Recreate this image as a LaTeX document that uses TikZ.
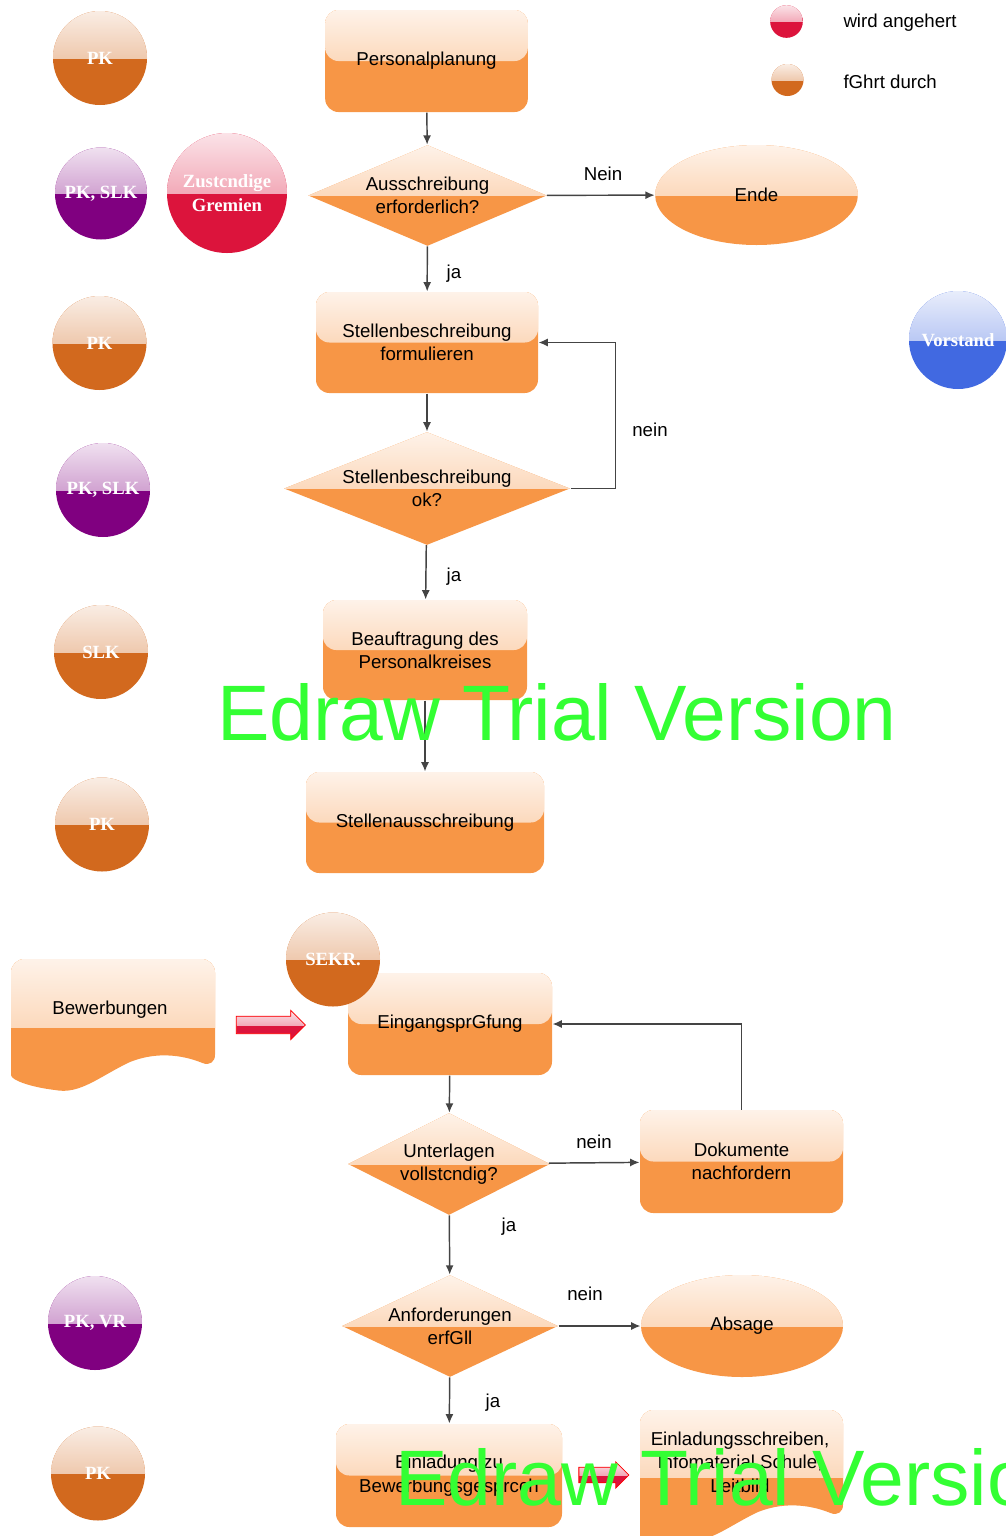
\documentclass[tikz,border=0pt]{standalone}
\usepackage{fontspec}
\setmainfont{Liberation Sans}
\newfontfamily\rolefont{Liberation Serif}
\usetikzlibrary{shapes.geometric,shapes.arrows,arrows.meta}

\definecolor{boxorange}{RGB}{247,150,70}
\definecolor{roleorange}{RGB}{210,105,30}
\definecolor{rolepurple}{RGB}{128,0,128}
\definecolor{rolered}{RGB}{220,20,60}
\definecolor{roleblue}{RGB}{65,105,225}
\definecolor{linegray}{RGB}{68,68,68}
\definecolor{trialgreen}{RGB}{51,255,51}

\tikzset{every picture/.style={line width=0.75pt},
  gloss/.style={path picture={\shade[top color=#1!12!white, bottom color=#1!60!white] (path picture bounding box.north west) rectangle (path picture bounding box.east);}},
  txt/.style={font=\fontsize{14pt}{17.5pt}\selectfont},
  box/.style={rectangle, rounded corners=10pt, fill=boxorange, gloss=boxorange, align=center, inner sep=0pt, txt},
  dec/.style={diamond, fill=boxorange, gloss=boxorange, align=center, inner sep=0pt, txt},
  oval/.style={ellipse, fill=boxorange, gloss=boxorange, align=center, inner sep=0pt, txt},
  role/.style={circle, fill=#1, gloss=#1, text=white, align=center, inner sep=0pt, minimum size=70.5pt, font=\rolefont\bfseries\fontsize{14pt}{18pt}\selectfont},
  conn/.style={draw=linegray, line width=1.1pt, -{Latex[length=7pt,width=6pt]}},
  lbl/.style={txt, inner sep=0pt},
  blockarrow/.style={single arrow, single arrow head extend=4.5pt, fill=rolered, gloss=rolered, draw=red, line width=0.6pt, inner xsep=0pt, inner ysep=6.2pt},
  trial/.style={text=trialgreen, font=\fontsize{59pt}{59pt}\selectfont, inner sep=0pt, anchor=base west}
}

\begin{document}
\begin{tikzpicture}[x=0.75pt,y=0.75pt,yscale=-1,xscale=1]
\useasboundingbox (0,0) rectangle (1006,1536);
\clip (0,0) rectangle (1006,1536);

%Shape: Legend
\node [role=rolered, minimum size=24.5pt] (legred) at (786.5,21.5) {};
\node [role=roleorange, minimum size=24pt] (legorange) at (787.5,80) {};
\node [lbl, anchor=west] (legredtext) at (843,23) {wird angehert};
\node [lbl, anchor=west] (legorangetext) at (843,82) {fGhrt durch};

%Shape: Roles
\node [role=roleorange] (pkA) at (100,58) {PK};
\node [role=rolepurple, minimum size=69pt] (pkslkA) at (101,193.5) {PK, SLK};
\node [role=rolered, minimum size=90pt] (gremien) at (227,193) {Zustcndige\\Gremien};
\node [role=roleorange] (pkB) at (99.5,343) {PK};
\node [role=rolepurple] (pkslkB) at (103,490) {PK, SLK};
\node [role=roleorange] (slk) at (101,652) {SLK};
\node [role=roleorange] (pkC) at (102,824.5) {PK};
\node [role=roleblue, minimum size=73.5pt] (vorstand) at (958,340) {Vorstand};
\node [role=rolepurple] (pkvr) at (95,1323) {PK, VR};
\node [role=roleorange] (pkD) at (98,1473.5) {PK};

%Shape: Process part 1
\node [box, minimum width=152pt, minimum height=76.5pt] (plan) at (426.5,61) {Personalplanung};
\node [dec, shape aspect=2.36, minimum width=179pt, minimum height=75.75pt] (ausschr) at (427.5,195.5) {Ausschreibung\\erforderlich?};
\node [oval, minimum width=152pt, minimum height=75pt] (ende) at (756.5,195) {Ende};
\node [box, minimum width=166.5pt, minimum height=75.75pt] (stbeschr) at (427,342.5) {Stellenbeschreibung\\formulieren};
\node [dec, shape aspect=2.53, minimum width=214.5pt, minimum height=84.75pt] (stok) at (427,488.5) {Stellenbeschreibung\\ok?};
\node [box, minimum width=153pt, minimum height=75pt] (beauftr) at (425,650) {Beauftragung des\\Personalkreises};
\node [box, minimum width=178.5pt, minimum height=75.75pt] (stausschr) at (425,822.5) {Stellenausschreibung};

%Straight Lines
\draw [conn] (plan) -- (ausschr);
\draw [conn] (ausschr) -- (ende);
\draw [conn] (ausschr) -- (stbeschr);
\draw [conn] (stbeschr) -- (stok);
\draw [conn] (stok.east) -- ++(45,0) |- (stbeschr.east);
\draw [conn] (stok) -- (beauftr);
\draw [conn] (beauftr) -- (stausschr);

% Text Node
\node [lbl] (neinA) at (603,174) {Nein};
\node [lbl] (jaA) at (454,274) {ja};
\node [lbl] (neinB) at (650,430) {nein};
\node [lbl] (jaB) at (454,577) {ja};

%Shape: Document Bewerbungen
\fill [boxorange, gloss=boxorange, rounded corners=10pt] (11,1075) -- (11,959) -- (215,959) -- (215,1068) [sharp corners] .. controls (195,1060) and (165,1048) .. (130,1062) .. controls (100,1076) and (80,1095) .. (55,1090) .. controls (30,1087) and (11,1080) .. cycle;
\node [lbl] (bewerb) at (110,1010) {Bewerbungen};
\node [blockarrow, minimum height=51.75pt] (pfeilA) at (266.5,1025) {};

%Shape: Process part 2
\node [box, minimum width=153pt, minimum height=76.5pt] (eingang) at (450,1024) {EingangsprGfung};
\node [role=roleorange] (sekr) at (333,959.5) {SEKR.};
\node [dec, shape aspect=1.98, minimum width=151.5pt, minimum height=76.5pt] (unterl) at (449,1164) {Unterlagen\\vollstcndig?};
\node [box, minimum width=152.25pt, minimum height=77.25pt] (dokum) at (741.5,1161.5) {Dokumente\\nachfordern};
\node [dec, shape aspect=2.12, minimum width=162pt, minimum height=76.5pt] (anford) at (450,1326) {Anforderungen\\erfGll};
\node [oval, minimum width=151.5pt, minimum height=76.5pt] (absage) at (742,1326) {Absage};
\node [box, minimum width=169.5pt, minimum height=77.25pt] (einlad) at (449,1475.5) {Einladung zu\\Bewerbungsgesprcch};

%Shape: Document Einladungsschreiben
\fill [boxorange, gloss=boxorange, rounded corners=10pt] (640,1545) -- (640,1410) -- (843,1410) -- (843,1518) [sharp corners] .. controls (823,1510) and (793,1498) .. (758,1512) .. controls (728,1526) and (708,1545) .. (683,1540) -- cycle;
\node [lbl, align=center] (infomat) at (740,1462) {Einladungsschreiben,\\Infomaterial Schule,\\Leitbild};
\node [blockarrow, minimum height=37.5pt, inner ysep=5.5pt, single arrow head extend=4pt] (pfeilB) at (600,1475) {};

%Straight Lines
\draw [conn] (eingang) -- (unterl);
\draw [conn] (unterl) -- (dokum);
\draw [conn] (dokum.north) |- (eingang.east);
\draw [conn] (unterl) -- (anford);
\draw [conn] (anford) -- (absage);
\draw [conn] (anford) -- (einlad);

% Text Node
\node [lbl] (neinC) at (594,1142) {nein};
\node [lbl] (jaC) at (509,1227) {ja};
\node [lbl] (neinD) at (585,1294) {nein};
\node [lbl] (jaD) at (493,1403) {ja};

% Watermark
\node [trial] (trialA) at (217,740) {Edraw Trial Version};
\node [trial] (trialB) at (395,1505) {Edraw Trial Version};

\end{tikzpicture}
\end{document}
